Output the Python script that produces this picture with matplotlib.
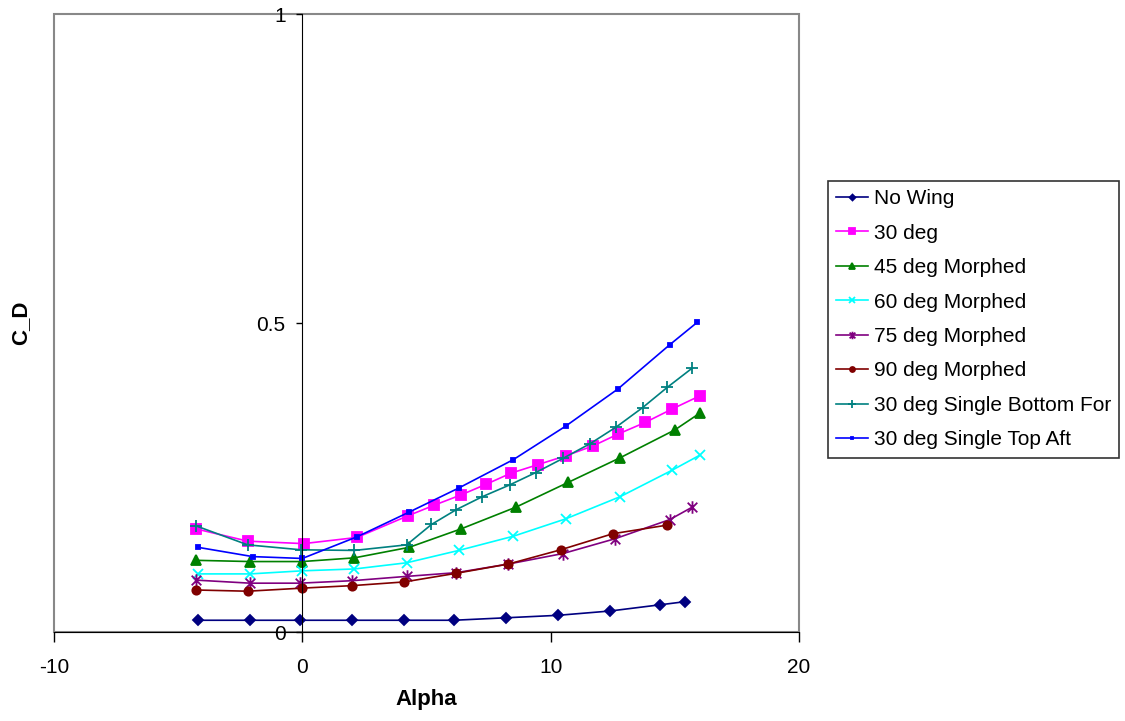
import matplotlib
matplotlib.use("Agg")
import matplotlib.pyplot as plt
from matplotlib.patches import Rectangle
from matplotlib.path import Path

# Drag coefficient vs angle of attack
alpha_nowing = [-4.2, -2.1, -0.1, 2.0, 4.1, 6.1, 8.2, 10.3, 12.4, 14.4, 15.4]
cd_nowing = [0.019, 0.019, 0.019, 0.019, 0.019, 0.019, 0.023, 0.027, 0.034, 0.044, 0.049]

alpha_30 = [-4.3, -2.2, 0.05, 2.2, 4.25, 5.3, 6.4, 7.4, 8.4, 9.5, 10.6, 11.7, 12.7, 13.8, 14.9, 16.0]
cd_30 = [0.167, 0.147, 0.143, 0.153, 0.188, 0.205, 0.222, 0.239, 0.257, 0.271, 0.285,
         0.301, 0.320, 0.339, 0.361, 0.382]

alpha_45 = [-4.3, -2.1, 0.0, 2.1, 4.3, 6.4, 8.6, 10.7, 12.8, 15.0, 16.0]
cd_45 = [0.116, 0.114, 0.114, 0.120, 0.137, 0.167, 0.202, 0.242, 0.282, 0.327, 0.354]

alpha_60 = [-4.2, -2.1, 0.0, 2.1, 4.2, 6.3, 8.5, 10.6, 12.8, 14.9, 16.0]
cd_60 = [0.094, 0.094, 0.099, 0.102, 0.112, 0.132, 0.155, 0.183, 0.219, 0.262, 0.286]

alpha_75 = [-4.3, -2.1, -0.1, 2.0, 4.2, 6.2, 8.3, 10.5, 12.6, 14.8, 15.7]
cd_75 = [0.084, 0.079, 0.079, 0.083, 0.090, 0.096, 0.110, 0.127, 0.151, 0.182, 0.202]

alpha_90 = [-4.3, -2.2, 0.0, 2.0, 4.1, 6.2, 8.3, 10.4, 12.5, 14.7]
cd_90 = [0.068, 0.066, 0.071, 0.075, 0.081, 0.095, 0.110, 0.133, 0.159, 0.173]

alpha_bot = [-4.3, -2.2, -0.05, 2.1, 4.2, 5.2, 6.2, 7.25, 8.35, 9.4, 10.5, 11.6, 12.65, 13.7, 14.7, 15.7]
cd_bot = [0.172, 0.141, 0.133, 0.132, 0.141, 0.174, 0.198, 0.219, 0.238, 0.258, 0.281,
          0.305, 0.332, 0.363, 0.396, 0.427]

alpha_top = [-4.2, -2.0, 0.0, 2.2, 4.3, 6.3, 8.5, 10.6, 12.7, 14.8, 15.9]
cd_top = [0.137, 0.122, 0.119, 0.154, 0.194, 0.233, 0.279, 0.333, 0.393, 0.465, 0.501]

labels = ["No Wing", "30 deg", "45 deg Morphed", "60 deg Morphed", "75 deg Morphed",
          "90 deg Morphed", "30 deg Single Bottom For", "30 deg Single Top Aft"]

# excel style star: x with a vertical bar
star = Path([(-1, -1), (1, 1), (-1, 1), (1, -1), (0, -1.3), (0, 1.3)],
            [Path.MOVETO, Path.LINETO, Path.MOVETO, Path.LINETO, Path.MOVETO, Path.LINETO])

plt.rcParams['font.family'] = ['Liberation Sans', 'DejaVu Sans']
plt.rcParams['axes.unicode_minus'] = False

fig = plt.figure(figsize=(11.25, 7.21), dpi=100)
ax = fig.add_axes([54 / 1125, 1 - 632 / 721, 745 / 1125, 618 / 721])

series = [
    (alpha_nowing, cd_nowing, '#000080', 'D', 5),
    (alpha_30, cd_30, '#FF00FF', 's', 6.5),
    (alpha_45, cd_45, '#008000', '^', 7),
    (alpha_60, cd_60, '#00FFFF', 'x', 7),
    (alpha_75, cd_75, '#800080', star, 9),
    (alpha_90, cd_90, '#800000', 'o', 6),
    (alpha_bot, cd_bot, '#008080', '+', 9),
    (alpha_top, cd_top, '#0000FF', 's', 2.5),
]

for (x, y, c, m, ms), lab in zip(series, labels):
    ax.plot(x, y, color=c, marker=m, markersize=ms, lw=1.2, label=lab,
            markerfacecolor=c, markeredgecolor=c, markeredgewidth=1.3, clip_on=False)

ax.set_xlim(-10, 20)
ax.set_ylim(0, 1)
ax.set_xticks([-10, 0, 10, 20])
ax.set_yticks([0, 0.5, 1])
ax.set_yticklabels(['0', '0.5', '1'])

ax.spines['left'].set_position(('data', 0))
ax.spines['left'].set_color('black')
ax.spines['bottom'].set_color('black')
ax.spines['top'].set_visible(False)
ax.spines['right'].set_visible(False)
ax.add_patch(Rectangle((0, 0), 1, 1, transform=ax.transAxes, fill=False,
                       edgecolor='#888888', lw=1.5, clip_on=False, zorder=0))

ax.tick_params(axis='x', direction='out', length=7, width=1, pad=12, labelsize=15)
ax.tick_params(axis='y', direction='out', length=4, width=1, pad=8, labelsize=15)

ax.set_xlabel('Alpha', fontsize=16, fontweight='bold', labelpad=8)
ax.set_ylabel('C_D', fontsize=16, fontweight='bold')
ax.yaxis.set_label_coords(-0.03, 0.5)

leg = fig.legend(loc='upper left', bbox_to_anchor=(828 / 1125, 1 - 181 / 721),
                 fontsize=15, frameon=True, fancybox=False, edgecolor='black',
                 handlelength=1.5, handletextpad=0.3, labelspacing=0.74,
                 borderpad=0.4, borderaxespad=0, markerscale=0.6)
leg.get_frame().set_linewidth(1.2)

fig.savefig('out.png', dpi=100)
